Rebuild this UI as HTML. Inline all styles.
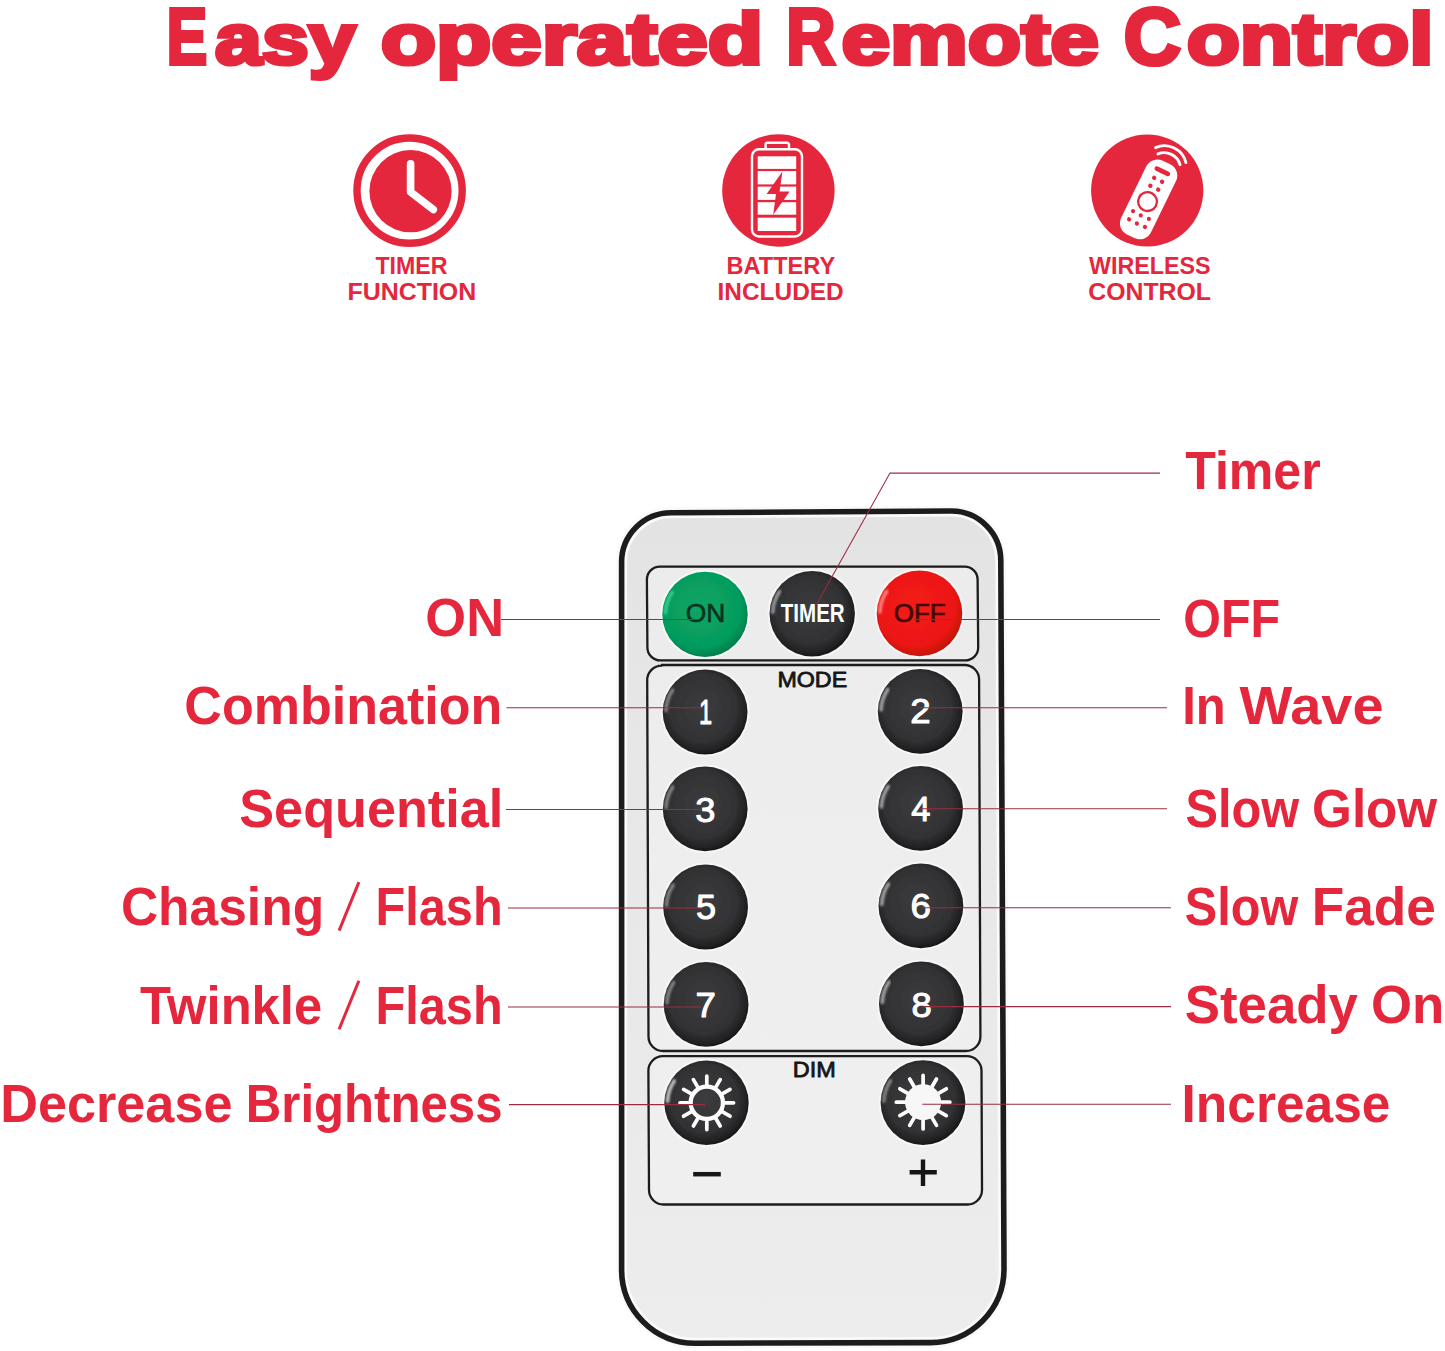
<!DOCTYPE html>
<html lang="en"><head><meta charset="utf-8"><title>Easy operated Remote Control</title>
<style>html,body{margin:0;padding:0;background:#fff;overflow:hidden}svg{display:block;position:absolute;left:0;top:0}text{font-family:"Liberation Sans",sans-serif}</style></head>
<body><svg width="1445" height="1351" viewBox="0 0 1445 1351">
<rect width="1445" height="1351" fill="#ffffff"/>
<text transform="translate(166.72 63.70) scale(0.7518 1)" font-size="80.52" font-weight="700" fill="#e4273c" stroke="#e4273c" stroke-width="4.2" stroke-linejoin="miter" stroke-miterlimit="2.5">E</text>
<text transform="translate(215.08 63.70) scale(1.1577 1)" font-size="72.73" font-weight="700" fill="#e4273c" stroke="#e4273c" stroke-width="4.2" stroke-linejoin="miter" stroke-miterlimit="2.5">asy</text>
<text transform="translate(380.67 63.70) scale(1.2451 1)" font-size="72.73" font-weight="700" fill="#e4273c" stroke="#e4273c" stroke-width="4.2" stroke-linejoin="miter" stroke-miterlimit="2.5">operated</text>
<text transform="translate(786.15 63.70) scale(0.8452 1)" font-size="80.52" font-weight="700" fill="#e4273c" stroke="#e4273c" stroke-width="4.2" stroke-linejoin="miter" stroke-miterlimit="2.5">R</text>
<text transform="translate(841.47 63.70) scale(1.2022 1)" font-size="72.73" font-weight="700" fill="#e4273c" stroke="#e4273c" stroke-width="4.2" stroke-linejoin="miter" stroke-miterlimit="2.5">emote</text>
<text transform="translate(1123.82 63.70) scale(0.9852 1)" font-size="80.52" font-weight="700" fill="#e4273c" stroke="#e4273c" stroke-width="4.2" stroke-linejoin="miter" stroke-miterlimit="2.5">C</text>
<text transform="translate(1186.68 63.70) scale(1.1974 1)" font-size="72.73" font-weight="700" fill="#e4273c" stroke="#e4273c" stroke-width="4.2" stroke-linejoin="miter" stroke-miterlimit="2.5">ontrol</text>
<g id="ic1"><circle cx="409.6" cy="190.6" r="52.6" fill="none" stroke="#e4273c" stroke-width="7.4"/><circle cx="410.5" cy="191.2" r="41.1" fill="#e4273c"/><path d="M410.6 163.8V192L433.3 209.6" fill="none" stroke="#fff" stroke-width="7.6" stroke-linecap="round" stroke-linejoin="round"/></g>
<g id="ic2"><circle cx="778.4" cy="190.5" r="56.2" fill="#e4273c"/><rect x="752" y="149.3" width="50" height="87.2" rx="7" fill="none" stroke="#fff" stroke-width="2.4"/><path d="M765.6 149V144.6a1.8 1.8 0 0 1 1.8 -1.8H787.2a1.8 1.8 0 0 1 1.8 1.8V149" fill="none" stroke="#fff" stroke-width="2.4"/><rect x="757.7" y="156.3" width="38.5" height="12.6" fill="#fff"/><rect x="757.7" y="171.1" width="38.5" height="13.3" fill="#fff"/><rect x="757.7" y="186.6" width="38.5" height="13.3" fill="#fff"/><rect x="757.7" y="202.2" width="38.5" height="12.5" fill="#fff"/><rect x="757.7" y="217.7" width="38.5" height="13.3" fill="#fff"/><path d="M782.4 171.6L766.6 194H776L773.2 214.8L789.6 191.6H779.6Z" fill="#e4273c"/></g>
<g id="ic3"><circle cx="1147.2" cy="190.5" r="56.1" fill="#e4273c"/><g transform="translate(1148.6 199.4) rotate(26)"><rect x="-16.6" y="-41" width="33.2" height="82" rx="12.5" fill="#fff"/><rect x="-8.4" y="-33.6" width="16.8" height="4.6" rx="2.3" fill="#e4273c"/><circle cx="-4.4" cy="-21.8" r="2.2" fill="#e4273c"/><circle cx="4.4" cy="-21.8" r="2.2" fill="#e4273c"/><circle cx="-4.4" cy="-13" r="2.2" fill="#e4273c"/><circle cx="4.4" cy="-13" r="2.2" fill="#e4273c"/><circle cx="0" cy="2.4" r="9.4" fill="none" stroke="#e4273c" stroke-width="2.3"/><circle cx="-8.8" cy="17.4" r="2.1" fill="#e4273c"/><circle cx="0" cy="17.8" r="2.1" fill="#e4273c"/><circle cx="8.8" cy="17.4" r="2.1" fill="#e4273c"/><circle cx="-8.8" cy="26.4" r="2.1" fill="#e4273c"/><circle cx="0" cy="26.8" r="2.1" fill="#e4273c"/><circle cx="8.8" cy="26.4" r="2.1" fill="#e4273c"/><path d="M-11.5 -45A16.5 16.5 0 0 1 13 -45" fill="none" stroke="#fff" stroke-width="2.9" stroke-linecap="round"/><path d="M-16.4 -49.6A22 22 0 0 1 17.4 -49.4" fill="none" stroke="#fff" stroke-width="2.9" stroke-linecap="round"/></g></g>
<text transform="translate(375.50 274.00) scale(0.9761 1)" font-size="23.69" font-weight="700" fill="#e4273c">TIMER</text>
<text transform="translate(347.44 300.00) scale(1.0532 1)" font-size="23.69" font-weight="700" fill="#e4273c">FUNCTION</text>
<text transform="translate(726.53 274.00) scale(0.9953 1)" font-size="23.69" font-weight="700" fill="#e4273c">BATTERY</text>
<text transform="translate(717.47 300.00) scale(1.0325 1)" font-size="23.69" font-weight="700" fill="#e4273c">INCLUDED</text>
<text transform="translate(1089.00 274.00) scale(0.9829 1)" font-size="23.69" font-weight="700" fill="#e4273c">WIRELESS</text>
<text transform="translate(1088.22 300.00) scale(1.0484 1)" font-size="23.69" font-weight="700" fill="#e4273c">CONTROL</text>
<defs>
<linearGradient id="body" x1="0" y1="0" x2="0" y2="1"><stop offset="0" stop-color="#e3e3e3"/><stop offset="0.3" stop-color="#e7e7e7"/><stop offset="0.7" stop-color="#eaeaea"/><stop offset="1" stop-color="#ededed"/></linearGradient>
<radialGradient id="bk" cx="0.47" cy="0.45" r="0.56"><stop offset="0" stop-color="#3c3c3f"/><stop offset="0.7" stop-color="#323234"/><stop offset="0.9" stop-color="#222223"/><stop offset="1" stop-color="#141414"/></radialGradient>
<radialGradient id="gr" cx="0.45" cy="0.42" r="0.58"><stop offset="0" stop-color="#0aa565"/><stop offset="0.8" stop-color="#059c5e"/><stop offset="1" stop-color="#03804b"/></radialGradient>
<radialGradient id="rd" cx="0.45" cy="0.42" r="0.58"><stop offset="0" stop-color="#f31b15"/><stop offset="0.8" stop-color="#ec1812"/><stop offset="1" stop-color="#c2120e"/></radialGradient>
<filter id="soft" x="-5%" y="-5%" width="110%" height="110%"><feGaussianBlur stdDeviation="0.7"/></filter>
<filter id="soft2" x="-5%" y="-5%" width="110%" height="110%"><feGaussianBlur stdDeviation="0.45"/></filter>
</defs>
<path d="M671.1 512.8L951.1 511.0A49.5 49.5 0 0 1 1000.8000000000001 560.5L1004.0 1269.1A73.5 73.5 0 0 1 930.5 1342.6L695.1 1343.2A73.5 73.5 0 0 1 621.6 1269.7L621.6 562.3A49.5 49.5 0 0 1 671.1 512.8Z" fill="url(#body)" stroke="#fafafa" stroke-width="11"/>
<path d="M671.1 512.8L951.1 511.0A49.5 49.5 0 0 1 1000.8000000000001 560.5L1004.0 1269.1A73.5 73.5 0 0 1 930.5 1342.6L695.1 1343.2A73.5 73.5 0 0 1 621.6 1269.7L621.6 562.3A49.5 49.5 0 0 1 671.1 512.8Z" fill="none" stroke="#1f1f1f" stroke-width="5.6" filter="url(#soft)"/>
<path d="M660 566.6H964.6a13 13 0 0 1 13 13L978.2 647.4a13 13 0 0 1 -13 13H660.4a13 13 0 0 1 -13 -13L646.9 579.6a13 13 0 0 1 13 -13Z" fill="#f3f3f3" fill-opacity="0.5" stroke="#1c1c1c" stroke-width="2.3" filter="url(#soft2)"/>
<path d="M662 665.0H964.6a14.5 14.5 0 0 1 14.5 14.5L980.4 1036.5a14.5 14.5 0 0 1 -14.5 14.5H663a14.5 14.5 0 0 1 -14.5 -14.5L647.2 680.1a14.5 14.5 0 0 1 14.5 -14.5Z" fill="#f3f3f3" fill-opacity="0.5" stroke="#1c1c1c" stroke-width="2.3" filter="url(#soft2)"/>
<path d="M663 1056.2H967a14.5 14.5 0 0 1 14.5 14.5L982 1190a14.5 14.5 0 0 1 -14.5 14.5H663.5a14.5 14.5 0 0 1 -14.5 -14.5L648.4 1070.7a14.5 14.5 0 0 1 14.5 -14.5Z" fill="#f3f3f3" fill-opacity="0.5" stroke="#1c1c1c" stroke-width="2.3" filter="url(#soft2)"/>
<defs><filter id="soft3" x="-30%" y="-30%" width="160%" height="160%"><feGaussianBlur stdDeviation="1.1"/></filter></defs>
<circle cx="705" cy="614.4" r="44.6" fill="#f7f7f7" filter="url(#soft2)"/>
<circle cx="705" cy="614.4" r="42.7" fill="url(#gr)" filter="url(#soft2)"/>
<path d="M665.5 613.0A39.5 39.5 0 0 1 672.3 592.3" fill="none" stroke="#5ff0b4" stroke-opacity="0.55" stroke-width="3.6" stroke-linecap="round" filter="url(#soft3)"/>
<circle cx="812.2" cy="613.7" r="44.6" fill="#f7f7f7" filter="url(#soft2)"/>
<circle cx="812.2" cy="613.7" r="42.7" fill="url(#bk)" filter="url(#soft2)"/>
<path d="M772.7 612.3A39.5 39.5 0 0 1 779.5 591.6" fill="none" stroke="#ffffff" stroke-opacity="0.5" stroke-width="3.6" stroke-linecap="round" filter="url(#soft3)"/>
<circle cx="919.5" cy="613.4" r="44.699999999999996" fill="#f7f7f7" filter="url(#soft2)"/>
<circle cx="919.5" cy="613.4" r="42.8" fill="url(#rd)" filter="url(#soft2)"/>
<path d="M879.9 612.0A39.599999999999994 39.599999999999994 0 0 1 886.7 591.3" fill="none" stroke="#ffb0a8" stroke-opacity="0.7" stroke-width="3.6" stroke-linecap="round" filter="url(#soft3)"/>
<circle cx="705.1" cy="712" r="44.3" fill="#f7f7f7" filter="url(#soft2)"/>
<circle cx="705.1" cy="712" r="42.4" fill="url(#bk)" filter="url(#soft2)"/>
<path d="M665.9 710.6A39.199999999999996 39.199999999999996 0 0 1 672.6 690.1" fill="none" stroke="#ffffff" stroke-opacity="0.4" stroke-width="3.6" stroke-linecap="round" filter="url(#soft3)"/>
<circle cx="920.2" cy="711.3" r="44.3" fill="#f7f7f7" filter="url(#soft2)"/>
<circle cx="920.2" cy="711.3" r="42.4" fill="url(#bk)" filter="url(#soft2)"/>
<path d="M881.0 709.9A39.199999999999996 39.199999999999996 0 0 1 887.7 689.4" fill="none" stroke="#ffffff" stroke-opacity="0.55" stroke-width="3.6" stroke-linecap="round" filter="url(#soft3)"/>
<circle cx="705.2" cy="808.8" r="44.3" fill="#f7f7f7" filter="url(#soft2)"/>
<circle cx="705.2" cy="808.8" r="42.4" fill="url(#bk)" filter="url(#soft2)"/>
<path d="M666.0 807.4A39.199999999999996 39.199999999999996 0 0 1 672.7 786.9" fill="none" stroke="#ffffff" stroke-opacity="0.4" stroke-width="3.6" stroke-linecap="round" filter="url(#soft3)"/>
<circle cx="920.6" cy="808.4" r="44.3" fill="#f7f7f7" filter="url(#soft2)"/>
<circle cx="920.6" cy="808.4" r="42.4" fill="url(#bk)" filter="url(#soft2)"/>
<path d="M881.4 807.0A39.199999999999996 39.199999999999996 0 0 1 888.1 786.5" fill="none" stroke="#ffffff" stroke-opacity="0.55" stroke-width="3.6" stroke-linecap="round" filter="url(#soft3)"/>
<circle cx="705.6" cy="907" r="44.3" fill="#f7f7f7" filter="url(#soft2)"/>
<circle cx="705.6" cy="907" r="42.4" fill="url(#bk)" filter="url(#soft2)"/>
<path d="M666.4 905.6A39.199999999999996 39.199999999999996 0 0 1 673.1 885.1" fill="none" stroke="#ffffff" stroke-opacity="0.4" stroke-width="3.6" stroke-linecap="round" filter="url(#soft3)"/>
<circle cx="920.9" cy="905.9" r="44.3" fill="#f7f7f7" filter="url(#soft2)"/>
<circle cx="920.9" cy="905.9" r="42.4" fill="url(#bk)" filter="url(#soft2)"/>
<path d="M881.7 904.5A39.199999999999996 39.199999999999996 0 0 1 888.4 884.0" fill="none" stroke="#ffffff" stroke-opacity="0.55" stroke-width="3.6" stroke-linecap="round" filter="url(#soft3)"/>
<circle cx="706.1" cy="1004.4" r="44.3" fill="#f7f7f7" filter="url(#soft2)"/>
<circle cx="706.1" cy="1004.4" r="42.4" fill="url(#bk)" filter="url(#soft2)"/>
<path d="M666.9 1003.0A39.199999999999996 39.199999999999996 0 0 1 673.6 982.5" fill="none" stroke="#ffffff" stroke-opacity="0.4" stroke-width="3.6" stroke-linecap="round" filter="url(#soft3)"/>
<circle cx="921.4" cy="1003.9" r="44.3" fill="#f7f7f7" filter="url(#soft2)"/>
<circle cx="921.4" cy="1003.9" r="42.4" fill="url(#bk)" filter="url(#soft2)"/>
<path d="M882.2 1002.5A39.199999999999996 39.199999999999996 0 0 1 888.9 982.0" fill="none" stroke="#ffffff" stroke-opacity="0.55" stroke-width="3.6" stroke-linecap="round" filter="url(#soft3)"/>
<circle cx="706.5" cy="1102.8" r="44.1" fill="#f7f7f7" filter="url(#soft2)"/>
<circle cx="706.5" cy="1102.8" r="42.2" fill="url(#bk)" filter="url(#soft2)"/>
<path d="M667.5 1101.4A39.0 39.0 0 0 1 674.2 1081.0" fill="none" stroke="#ffffff" stroke-opacity="0.7" stroke-width="3.6" stroke-linecap="round" filter="url(#soft3)"/>
<circle cx="923" cy="1102.6" r="44.3" fill="#f7f7f7" filter="url(#soft2)"/>
<circle cx="923" cy="1102.6" r="42.4" fill="url(#bk)" filter="url(#soft2)"/>
<path d="M883.8 1101.2A39.199999999999996 39.199999999999996 0 0 1 890.5 1080.7" fill="none" stroke="#ffffff" stroke-opacity="0.4" stroke-width="3.6" stroke-linecap="round" filter="url(#soft3)"/>
<text transform="translate(685.66 622.20) scale(1.0317 1)" font-size="25.58" font-weight="400" fill="#0a3320" stroke="#0a3320" stroke-width="0.6" stroke-linejoin="round">ON</text>
<text transform="translate(893.68 621.80) scale(1.0336 1)" font-size="25.15" font-weight="400" fill="#430806" stroke="#430806" stroke-width="0.7" stroke-linejoin="round">OFF</text>
<text transform="translate(780.80 622.20) scale(0.8168 1)" font-size="25.15" font-weight="700" fill="#ffffff">TIMER</text>
<text transform="translate(777.38 687.00) scale(1.0327 1)" font-size="22.53" font-weight="400" fill="#151515" stroke="#151515" stroke-width="0.8" stroke-linejoin="round">MODE</text>
<text transform="translate(792.87 1077.00) scale(1.0416 1)" font-size="22.53" font-weight="400" fill="#151515" stroke="#151515" stroke-width="0.8" stroke-linejoin="round">DIM</text>
<text transform="translate(698.92 723.60) scale(0.6604 1)" font-size="35.76" font-weight="400" fill="#ffffff" stroke="#ffffff" stroke-width="1.0" stroke-linejoin="round">1</text>
<text transform="translate(910.28 723.20) scale(1.0262 1)" font-size="35.76" font-weight="400" fill="#ffffff" stroke="#ffffff" stroke-width="1.0" stroke-linejoin="round">2</text>
<text transform="translate(695.36 821.60) scale(1.0162 1)" font-size="35.76" font-weight="400" fill="#ffffff" stroke="#ffffff" stroke-width="1.0" stroke-linejoin="round">3</text>
<text transform="translate(911.26 820.80) scale(0.9655 1)" font-size="35.76" font-weight="400" fill="#ffffff" stroke="#ffffff" stroke-width="1.0" stroke-linejoin="round">4</text>
<text transform="translate(695.97 919.00) scale(1.0104 1)" font-size="35.76" font-weight="400" fill="#ffffff" stroke="#ffffff" stroke-width="1.0" stroke-linejoin="round">5</text>
<text transform="translate(910.58 918.40) scale(1.0262 1)" font-size="35.76" font-weight="400" fill="#ffffff" stroke="#ffffff" stroke-width="1.0" stroke-linejoin="round">6</text>
<text transform="translate(695.38 1017.30) scale(1.0262 1)" font-size="35.76" font-weight="400" fill="#ffffff" stroke="#ffffff" stroke-width="1.0" stroke-linejoin="round">7</text>
<text transform="translate(911.46 1016.60) scale(1.0162 1)" font-size="35.76" font-weight="400" fill="#ffffff" stroke="#ffffff" stroke-width="1.0" stroke-linejoin="round">8</text>
<path d="M724.00 1102.80L733.60 1102.80M721.70 1111.40L730.01 1116.20M715.40 1117.70L720.20 1126.01M706.80 1120.00L706.80 1129.60M698.20 1117.70L693.40 1126.01M691.90 1111.40L683.59 1116.20M689.60 1102.80L680.00 1102.80M691.90 1094.20L683.59 1089.40M698.20 1087.90L693.40 1079.59M706.80 1085.60L706.80 1076.00M715.40 1087.90L720.20 1079.59M721.70 1094.20L730.01 1089.40" stroke="#fdfdfd" stroke-width="3.7" stroke-linecap="round" fill="none"/>
<circle cx="706.8" cy="1102.8" r="16.15" fill="none" stroke="#fdfdfd" stroke-width="4.3"/>
<path d="M940.30 1102.20L949.90 1102.20M938.00 1110.80L946.31 1115.60M931.70 1117.10L936.50 1125.41M923.10 1119.40L923.10 1129.00M914.50 1117.10L909.70 1125.41M908.20 1110.80L899.89 1115.60M905.90 1102.20L896.30 1102.20M908.20 1093.60L899.89 1088.80M914.50 1087.30L909.70 1078.99M923.10 1085.00L923.10 1075.40M931.70 1087.30L936.50 1078.99M938.00 1093.60L946.31 1088.80" stroke="#fdfdfd" stroke-width="3.7" stroke-linecap="round" fill="none"/>
<circle cx="923.1" cy="1102.2" r="18" fill="#f7f7f7"/>
<path d="M693.2 1174.2H720.8" stroke="#151515" stroke-width="4.5"/>
<path d="M909.6 1172.3H936.8M923 1159.4V1185.9" stroke="#151515" stroke-width="4.4"/>
<path d="M501 619.5H696.5" stroke="#9a2c40" stroke-width="1.05" fill="none"/>
<path d="M506.5 707.7H700.6" stroke="#9a2c40" stroke-width="1.05" fill="none"/>
<path d="M506 809.4H701" stroke="#9a2c40" stroke-width="1.05" fill="none"/>
<path d="M508 908H702" stroke="#9a2c40" stroke-width="1.05" fill="none"/>
<path d="M508 1006.9H701.5" stroke="#9a2c40" stroke-width="1.05" fill="none"/>
<path d="M509 1104.6H705" stroke="#9a2c40" stroke-width="1.05" fill="none"/>
<path d="M1160 473.1H890L816.4 604.6" stroke="#9a2c40" stroke-width="1.05" fill="none"/>
<path d="M1160 619.4H913.8" stroke="#9a2c40" stroke-width="1.05" fill="none"/>
<path d="M1167 707.7H919.2" stroke="#9a2c40" stroke-width="1.05" fill="none"/>
<path d="M1167 808.8H920" stroke="#9a2c40" stroke-width="1.05" fill="none"/>
<path d="M1171 907.7H921.4" stroke="#9a2c40" stroke-width="1.05" fill="none"/>
<path d="M1171 1006.6H922.9" stroke="#9a2c40" stroke-width="1.05" fill="none"/>
<path d="M1171 1104.3H922.2" stroke="#9a2c40" stroke-width="1.05" fill="none"/>
<text transform="translate(425.36 636.00) scale(0.9703 1)" font-size="54.07" font-weight="700" fill="#e4273c">ON</text>
<text transform="translate(184.37 724.10) scale(0.9629 1)" font-size="54.07" font-weight="700" fill="#e4273c">Combination</text>
<text transform="translate(239.28 826.70) scale(0.9660 1)" font-size="54.07" font-weight="700" fill="#e4273c">Sequential</text>
<text transform="translate(120.89 925.10) scale(0.9532 1)" font-size="54.07" font-weight="700" fill="#e4273c">Chasing</text>
<text transform="translate(375.46 925.10) scale(0.9007 1)" font-size="54.07" font-weight="700" fill="#e4273c">Flash</text>
<path d="M339.1 930.6L358.9 882.1" stroke="#e4273c" stroke-width="3"/>
<text transform="translate(139.90 1023.50) scale(0.9381 1)" font-size="54.07" font-weight="700" fill="#e4273c">Twinkle</text>
<text transform="translate(375.46 1023.50) scale(0.9007 1)" font-size="54.07" font-weight="700" fill="#e4273c">Flash</text>
<path d="M339.1 1029.2L358.9 980.8" stroke="#e4273c" stroke-width="3"/>
<text transform="translate(0.24 1121.90) scale(0.9657 1)" font-size="54.07" font-weight="700" fill="#e4273c">Decrease</text>
<text transform="translate(245.83 1121.90) scale(0.9088 1)" font-size="54.07" font-weight="700" fill="#e4273c">Brightness</text>
<text transform="translate(1185.20 488.50) scale(0.9265 1)" font-size="54.07" font-weight="700" fill="#e4273c">Timer</text>
<text transform="translate(1183.29 636.50) scale(0.8953 1)" font-size="54.07" font-weight="700" fill="#e4273c">OFF</text>
<text transform="translate(1182.14 723.70) scale(0.9059 1)" font-size="54.07" font-weight="700" fill="#e4273c">In</text>
<text transform="translate(1239.50 723.70) scale(1.0349 1)" font-size="54.07" font-weight="700" fill="#e4273c">Wave</text>
<text transform="translate(1185.44 826.70) scale(0.9019 1)" font-size="54.07" font-weight="700" fill="#e4273c">Slow</text>
<text transform="translate(1312.10 826.70) scale(0.9467 1)" font-size="54.07" font-weight="700" fill="#e4273c">Glow</text>
<text transform="translate(1184.84 925.30) scale(0.8995 1)" font-size="54.07" font-weight="700" fill="#e4273c">Slow</text>
<text transform="translate(1311.68 925.30) scale(0.9838 1)" font-size="54.07" font-weight="700" fill="#e4273c">Fade</text>
<text transform="translate(1184.77 1023.30) scale(0.9773 1)" font-size="54.07" font-weight="700" fill="#e4273c">Steady</text>
<text transform="translate(1371.05 1023.30) scale(0.9762 1)" font-size="54.07" font-weight="700" fill="#e4273c">On</text>
<text transform="translate(1181.58 1121.90) scale(0.9519 1)" font-size="54.07" font-weight="700" fill="#e4273c">Increase</text>
</svg></body></html>
